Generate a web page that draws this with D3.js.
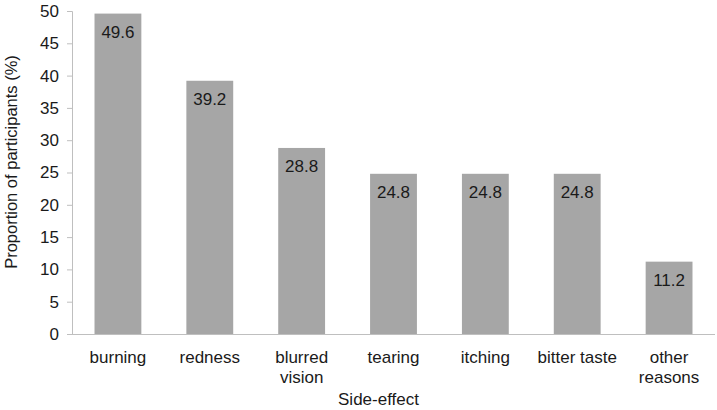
<!DOCTYPE html>
<html>
<head>
<meta charset="utf-8">
<script src="https://cdn.jsdelivr.net/npm/d3@7"></script>
<style>
  body { margin: 0; background: #fff; }
  text { font-family: "Liberation Sans", Arial, sans-serif; fill: #1a1a1a; }
</style>
</head>
<body>
<svg width="717" height="410"></svg>
<script>
var categories = ["burning", "redness", "blurred vision", "tearing", "itching", "bitter taste", "other reasons"];
var values = [49.6, 39.2, 28.8, 24.8, 24.8, 24.8, 11.2];
var yTicks = [0, 5, 10, 15, 20, 25, 30, 35, 40, 45, 50];

var svg = d3.select("svg");
var plotLeft = 72, plotRight = 715, plotTop = 11, plotBottom = 334;

var x = d3.scaleBand().domain(categories).range([plotLeft, plotRight]).paddingInner(0.49).paddingOuter(0.245);
var y = d3.scaleLinear().domain([0, 50]).range([plotBottom, plotTop]);

// bars
svg.selectAll("rect.bar")
    .data(values)
    .enter()
    .append("rect")
    .attr("class", "bar")
    .attr("x", function (d, i) { return x(categories[i]); })
    .attr("y", function (d) { return y(d); })
    .attr("width", x.bandwidth())
    .attr("height", function (d) { return plotBottom - y(d); })
    .attr("fill", "#a6a6a6");

// value labels
svg.selectAll("text.val")
    .data(values)
    .enter()
    .append("text")
    .attr("class", "val")
    .attr("x", function (d, i) { return x(categories[i]) + x.bandwidth() / 2; })
    .attr("y", function (d) { return y(d) + 24; })
    .attr("text-anchor", "middle")
    .attr("font-size", 17)
    .text(function (d) { return d.toFixed(1); });

// y axis
var yAxis = svg.append("g")
    .attr("transform", "translate(" + plotLeft + ",0)")
    .call(d3.axisLeft(y).tickValues(yTicks).tickSize(5).tickPadding(8));
yAxis.selectAll("text").attr("font-size", 17).attr("font-family", null).style("fill", "#1a1a1a");
yAxis.selectAll("line, path").attr("stroke", "#bfbfbf");

// x axis line
svg.append("line")
    .attr("x1", plotLeft).attr("x2", plotRight)
    .attr("y1", plotBottom + 0.5).attr("y2", plotBottom + 0.5)
    .attr("stroke", "#bfbfbf");

// category labels (wrapped)
var lines = {
    "blurred vision": ["blurred", "vision"],
    "other reasons": ["other", "reasons"]
};
svg.selectAll("text.cat")
    .data(categories)
    .enter()
    .append("text")
    .attr("class", "cat")
    .attr("text-anchor", "middle")
    .attr("font-size", 17)
    .attr("x", function (d) { return x(d) + x.bandwidth() / 2; })
    .attr("y", 363)
    .each(function (d) {
        var parts = lines[d] || [d];
        var t = d3.select(this);
        parts.forEach(function (p, j) {
            t.append("tspan")
                .attr("x", x(d) + x.bandwidth() / 2)
                .attr("dy", j === 0 ? 0 : 20)
                .text(p);
        });
    });

// axis titles
svg.append("text")
    .attr("x", (plotLeft + plotRight) / 2 - 15)
    .attr("y", 405)
    .attr("text-anchor", "middle")
    .attr("font-size", 17)
    .text("Side-effect");

svg.append("text")
    .attr("transform", "translate(17,162) rotate(-90)")
    .attr("text-anchor", "middle")
    .attr("font-size", 16.5)
    .text("Proportion of participants (%)");
</script>
</body>
</html>
